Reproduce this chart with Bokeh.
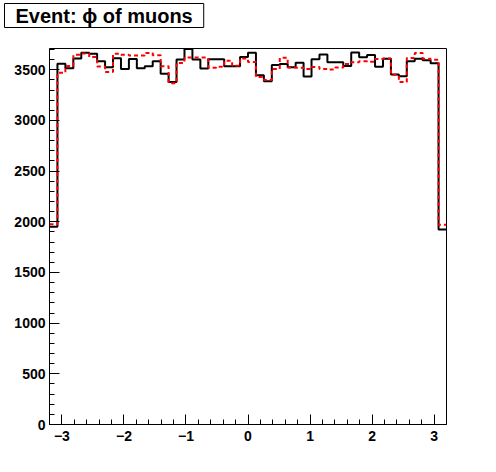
import numpy as np
from bokeh.plotting import figure
from bokeh.models import Range1d, SingleIntervalTicker, Title
from bokeh.embed import file_html
from bokeh.resources import INLINE

# Histogram: 50 bins between -3.2 and 3.2
x_lo, x_hi, n_bins = -3.2, 3.2, 50

black_counts = [1950, 3560, 3515, 3612, 3668, 3657, 3583, 3525, 3614, 3507,
                3607, 3515, 3535, 3583, 3460, 3380, 3602, 3705, 3602, 3512,
                3605, 3605, 3535, 3535, 3627, 3668, 3445, 3388, 3548, 3558,
                3525, 3570, 3433, 3603, 3652, 3575, 3575, 3538, 3670, 3624,
                3647, 3531, 3610, 3454, 3436, 3583, 3610, 3594, 3565, 1925]

red_counts = [1975, 3470, 3538, 3648, 3660, 3625, 3533, 3477, 3658, 3648,
              3640, 3640, 3665, 3643, 3536, 3367, 3568, 3620, 3620, 3620,
              3521, 3530, 3590, 3540, 3612, 3578, 3428, 3400, 3508, 3618,
              3522, 3521, 3507, 3528, 3507, 3502, 3522, 3558, 3575, 3583,
              3580, 3607, 3611, 3450, 3380, 3617, 3665, 3610, 3600, 1970]

x_ticks_interval = 1
y_ticks_interval = 500
y_max = 3710
title_text = "Event: \u03d5 of muons"

edges = np.linspace(x_lo, x_hi, n_bins + 1)

p = figure(width=488, height=464, output_backend="svg", toolbar_location=None,
           x_range=Range1d(x_lo, x_hi), y_range=Range1d(0, y_max),
           min_border_left=49, min_border_right=42,
           min_border_top=47, min_border_bottom=40,
           margin=(0, 0, 0, 0), title=None)

p.background_fill_color = "white"
p.border_fill_color = "white"
p.outline_line_color = "black"
p.outline_line_width = 1
p.xgrid.visible = False
p.ygrid.visible = False

# thin spacer between the frame and the boxed title
spacer = Title(text=" ", text_font_size="1px", standoff=13)
p.add_layout(spacer, "above")

title = Title(text=title_text, align="left", vertical_align="top",
              text_font="Liberation Sans", text_font_style="bold",
              text_font_size="20px", text_color="black",
              border_line_color="black", border_line_width=1,
              background_fill_color="white", padding=(11, 1),
              offset=-45, standoff=6)
p.add_layout(title, "above")

for ax, interval in ((p.xaxis[0], x_ticks_interval), (p.yaxis[0], y_ticks_interval)):
    ax.ticker = SingleIntervalTicker(interval=interval, num_minor_ticks=5)
    ax.major_tick_in = 10
    ax.major_tick_out = 0
    ax.minor_tick_in = 5
    ax.minor_tick_out = 0
    ax.axis_line_color = "black"
    ax.major_tick_line_color = "black"
    ax.minor_tick_line_color = "black"
    ax.major_label_text_font = "Liberation Sans"
    ax.major_label_text_font_style = "bold"
    ax.major_label_text_font_size = "14px"
    ax.major_label_text_color = "black"

p.xaxis.major_label_standoff = 6
p.yaxis.major_label_standoff = 4

bx = list(edges)
p.step(x=bx, y=black_counts + [black_counts[-1]], mode="after",
       line_color="black", line_width=2)
p.step(x=bx, y=red_counts + [red_counts[-1]], mode="after",
       line_color="#ff0000", line_width=2, line_dash="4 3")

open("out.html", "w").write(file_html(p, INLINE))
